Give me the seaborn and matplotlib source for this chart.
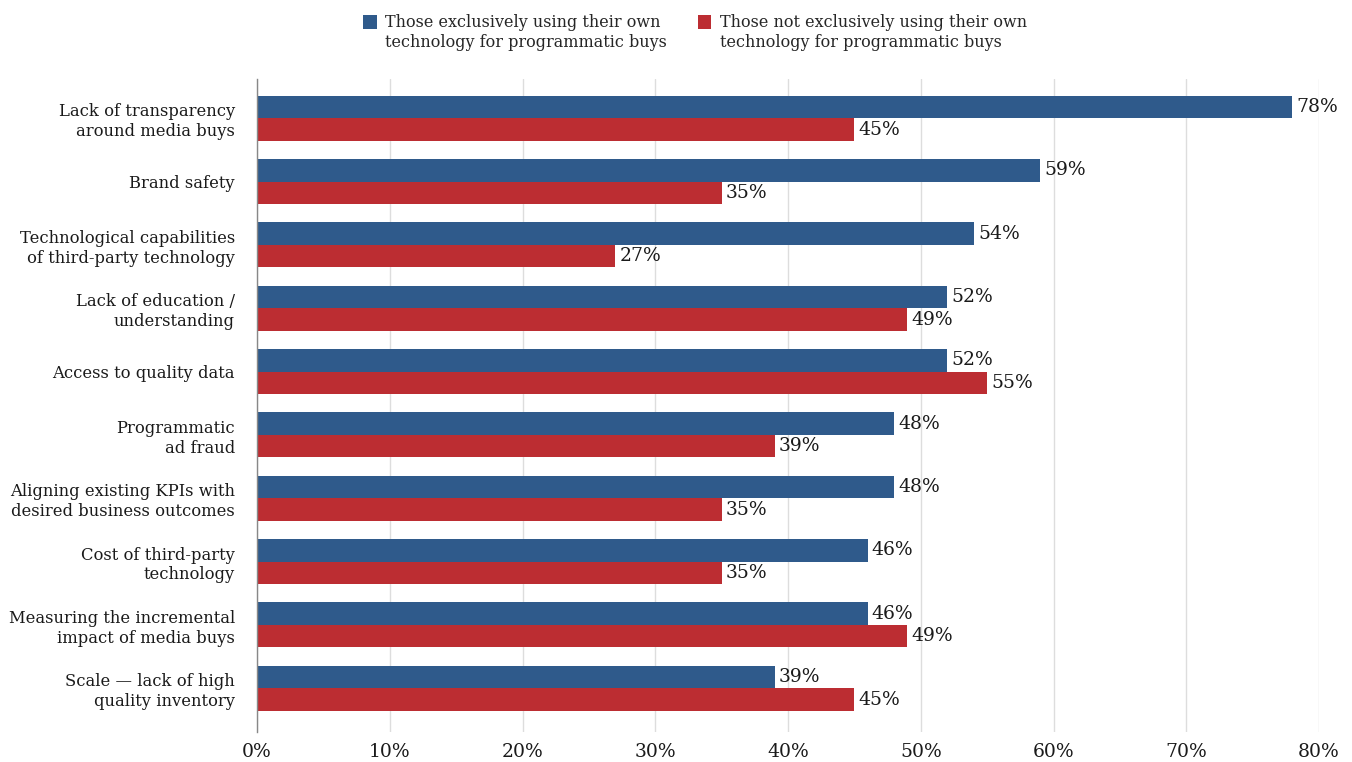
import matplotlib
matplotlib.use("Agg")
import matplotlib.pyplot as plt
from matplotlib.patches import Patch, Rectangle
from matplotlib.legend_handler import HandlerPatch
import seaborn as sns
import pandas as pd

categories = [
    "Lack of transparency\naround media buys",
    "Brand safety",
    "Technological capabilities\nof third-party technology",
    "Lack of education /\nunderstanding",
    "Access to quality data",
    "Programmatic\nad fraud",
    "Aligning existing KPIs with\ndesired business outcomes",
    "Cost of third-party\ntechnology",
    "Measuring the incremental\nimpact of media buys",
    "Scale \u2014 lack of high\nquality inventory",
]
own_tech = [78, 59, 54, 52, 52, 48, 48, 46, 46, 39]
not_own_tech = [45, 35, 27, 49, 55, 39, 35, 35, 49, 45]
series_names = [
    "Those exclusively using their own\ntechnology for programmatic buys",
    "Those not exclusively using their own\ntechnology for programmatic buys",
]
xticks = [0, 10, 20, 30, 40, 50, 60, 70, 80]

blue = "#2F5A8B"
red = "#BC2D32"

df = pd.DataFrame({
    "category": categories * 2,
    "value": own_tech + not_own_tech,
    "group": [series_names[0]] * len(categories) + [series_names[1]] * len(categories),
})

sns.set_style("white")
plt.rcParams["font.family"] = ["DejaVu Serif"]
fs = 11.8
num_fs = 13.5

fig = plt.figure(figsize=(13.52, 7.62), dpi=100)
ax = fig.add_axes([257 / 1352, 1 - 732 / 762, (1319 - 257) / 1352, (732 - 79) / 762])

sns.barplot(data=df, y="category", x="value", hue="group", orient="h",
            palette=[blue, red], width=0.71, saturation=1, legend=False,
            linewidth=0, ax=ax)

for cont in ax.containers:
    ax.bar_label(cont, labels=[f"{v:.0f}%" for v in cont.datavalues],
                 padding=3, fontsize=num_fs, color="#1a1a1a")

ax.set_xlim(0, 80)
ax.set_ylim(9.69, -0.62)
ax.set_xticks(xticks)
ax.set_xticklabels([f"{t}%" for t in xticks], fontsize=num_fs, color="#1a1a1a")
ax.set_yticklabels(categories, fontsize=fs, color="#1a1a1a")
ax.tick_params(axis="y", length=0, pad=16)
ax.tick_params(axis="x", length=0, pad=8)
ax.set_xlabel("")
ax.set_ylabel("")
ax.grid(axis="x", color="#DDDDDD", linewidth=1)
ax.set_axisbelow(True)
for s in ["top", "right", "bottom"]:
    ax.spines[s].set_visible(False)
ax.spines["left"].set_color("#888888")
ax.spines["left"].set_linewidth(1)


# square aligned with the first text line, like the original
def top_square(legend, orig_handle, xdescent, ydescent, width, height, fontsize):
    return Rectangle((-xdescent, -ydescent + 0.75 * fontsize), width, height)


handles = [Patch(facecolor=blue, linewidth=0), Patch(facecolor=red, linewidth=0)]
fig.legend(handles, series_names, loc="upper center", ncol=2,
           bbox_to_anchor=(695 / 1352, 1.0), frameon=False, fontsize=11.5,
           handlelength=0.85, handleheight=0.95, handletextpad=0.55,
           columnspacing=1.9,
           handler_map={Patch: HandlerPatch(patch_func=top_square)})

fig.savefig("out.png", dpi=100)
